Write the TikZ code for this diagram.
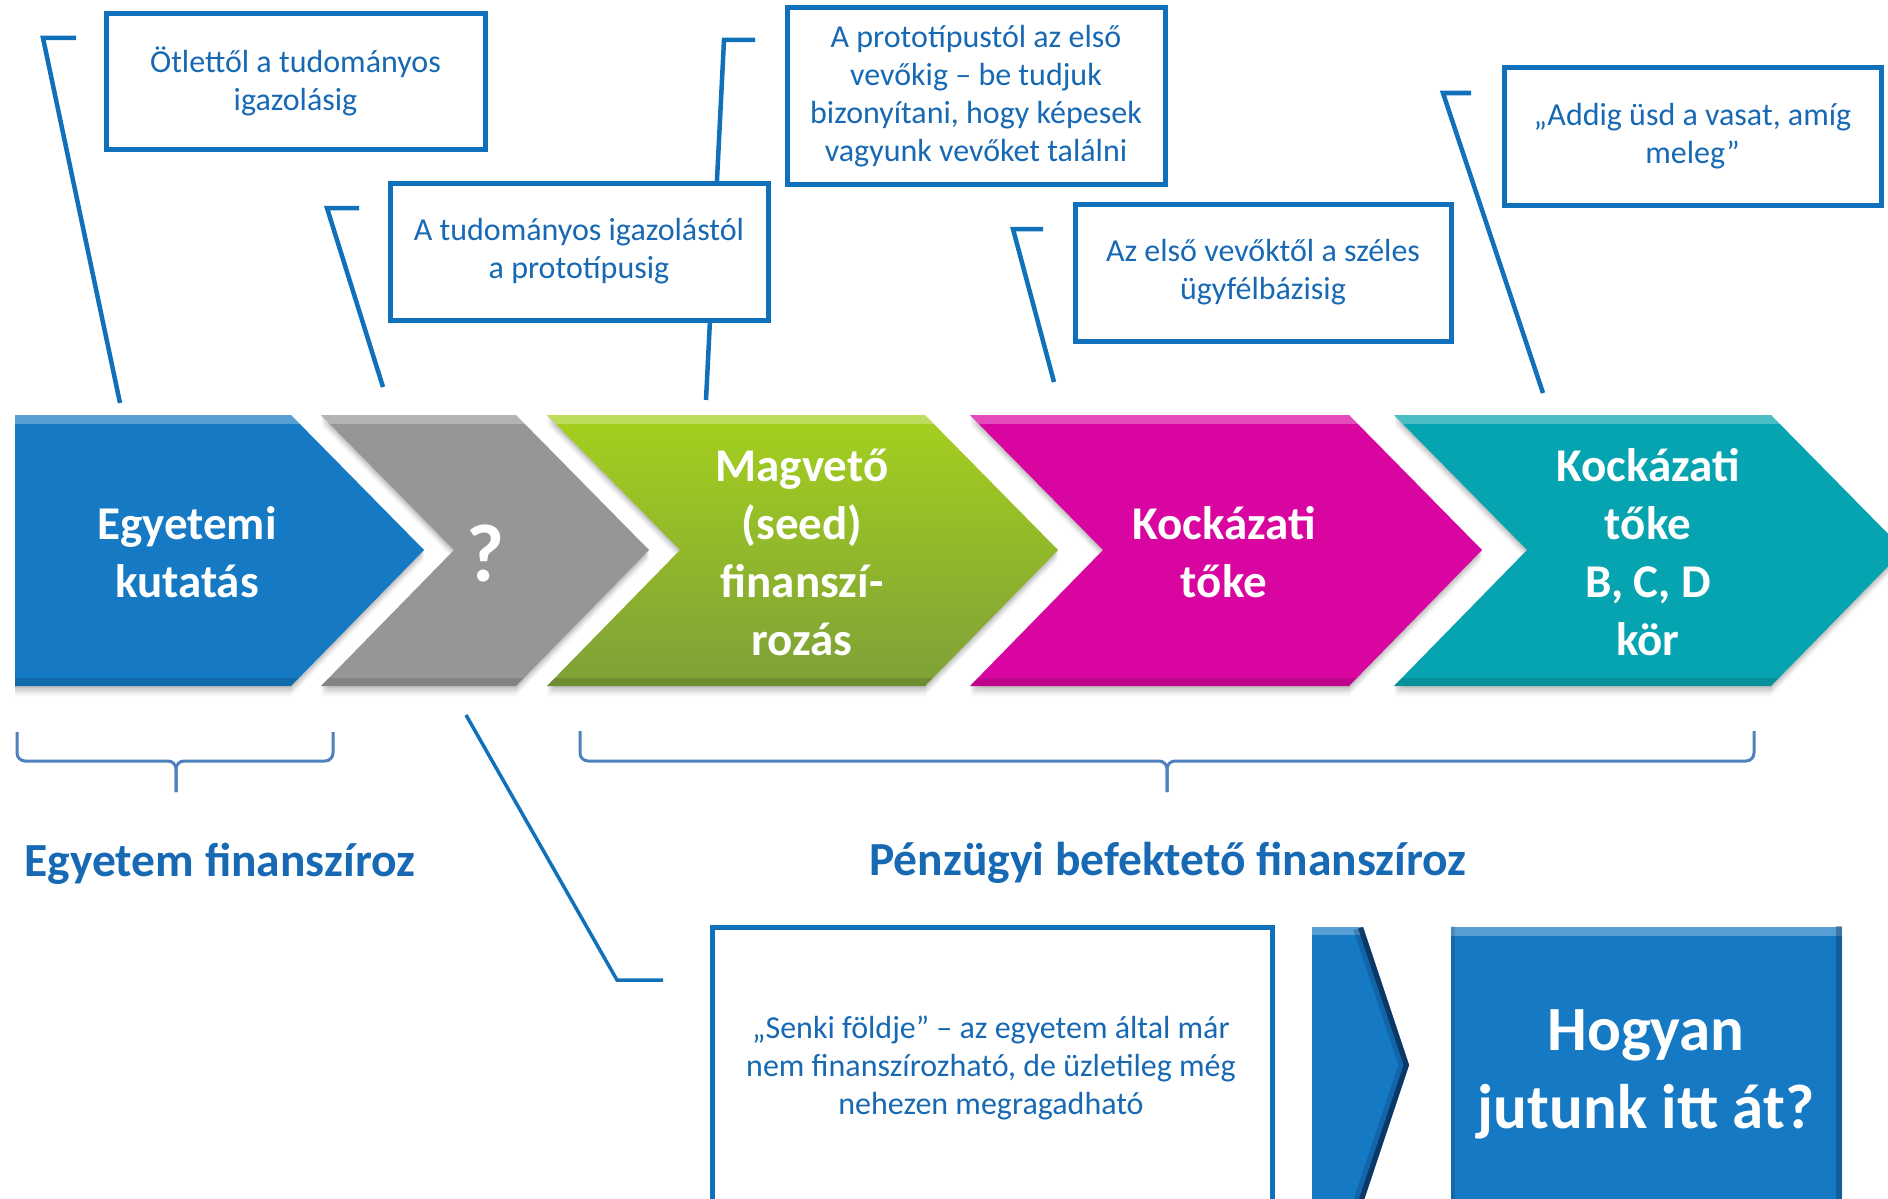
\documentclass[tikz,border=0pt]{standalone}
\usepackage{fontspec}
\setmainfont{Carlito}
\definecolor{cblue}{RGB}{17,112,186}
\definecolor{ctext}{RGB}{24,105,180}
\definecolor{bracecol}{RGB}{79,129,189}
\definecolor{chblue}{RGB}{21,121,196}
\definecolor{chnavy}{RGB}{10,45,85}
\definecolor{chgray}{RGB}{150,150,150}
\definecolor{chgreenA}{RGB}{164,208,30}
\definecolor{chgreenB}{RGB}{126,160,56}
\definecolor{chmag}{RGB}{217,5,160}
\definecolor{chteal}{RGB}{6,164,176}
\tikzset{
  callline/.style={draw=cblue, line width=4.5pt},
  callbox/.style={draw=cblue, line width=5pt, fill=white, text=ctext, align=center,
    font=\fontsize{32}{38}\selectfont, inner sep=0pt},
  chtext/.style={text=white, align=center, font=\bfseries\fontsize{47}{58}\selectfont},
  bracestyle/.style={draw=bracecol, line width=3pt, rounded corners=8pt},
  labelstyle/.style={text=ctext, font=\bfseries\fontsize{47.5}{54}\selectfont},
}
\newcommand\shadowlayers[1]{%
  \foreach \s/\o in {2/.07,4/.06,6/.05,8/.04,10/.03}{\fill[black, opacity=\o, yshift=-\s pt] #1;}}
\newcommand\chevN[3]{%
  \shadowlayers{(#1,415) -- (#2,415) -- ({#2+133},550) -- (#2,686) -- (#1,686) -- ({#1+133},550) -- cycle}
  \path[#3] (#1,415) -- (#2,415) -- ({#2+133},550) -- (#2,686) -- (#1,686) -- ({#1+133},550) -- cycle;
  \begin{scope}
    \clip (#1,415) -- (#2,415) -- ({#2+133},550) -- (#2,686) -- (#1,686) -- ({#1+133},550) -- cycle;
    \fill[white, opacity=.28] ({#1-20},410) rectangle ({#2+150},424);
    \fill[black, opacity=.12] ({#1-20},678) rectangle ({#2+150},690);
  \end{scope}}
\begin{document}
\begin{tikzpicture}[x=1pt,y=-1pt]
\useasboundingbox (0,0) rectangle (1888,1199);
\clip (0,0) rectangle (1888,1199);
\fill[white] (0,0) rectangle (1888,1199);

% callout leader lines
\coordinate (a1) at (76,38);   \coordinate (k1) at (43,38);   \coordinate (e1) at (120,403);
\coordinate (a2) at (359,208); \coordinate (k2) at (327,208); \coordinate (e2) at (383,387);
\coordinate (a3) at (755,40);  \coordinate (k3) at (724,40);  \coordinate (e3) at (706,400);
\coordinate (a4) at (1043,229);\coordinate (k4) at (1013,229);\coordinate (e4) at (1054,382);
\coordinate (a5) at (1471,93); \coordinate (k5) at (1443,93); \coordinate (e5) at (1543,393);
\coordinate (a6) at (466,715); \coordinate (k6) at (617,980); \coordinate (e6) at (663,980);
\draw[callline] (a1) -- (k1) -- (e1);
\draw[callline] (a2) -- (k2) -- (e2);
\draw[callline] (a3) -- (k3) -- (e3);
\draw[callline] (a4) -- (k4) -- (e4);
\draw[callline] (a5) -- (k5) -- (e5);
\draw[callline, line width=3.5pt] (a6) -- (k6) -- (e6);

% callout boxes
\node[callbox, minimum width=379pt, minimum height=136pt] (b1) at (295.5,81.5) {Ötlettől a tudományos\\igazolásig};
\node[callbox, minimum width=378pt, minimum height=137pt] (b2) at (579,251.5) {A tudományos igazolástól\\a prototípusig};
\node[callbox, minimum width=378pt, minimum height=176pt] (b3) at (976,96) {A prototípustól az első\\vevőkig -- be tudjuk\\bizonyítani, hogy képesek\\vagyunk vevőket találni};
\node[callbox, minimum width=376pt, minimum height=137pt] (b4) at (1263,272.5) {Az első vevőktől a széles\\ügyfélbázisig};
\node[callbox, minimum width=377pt, minimum height=137pt] (b5) at (1692.5,136.5) {„Addig üsd a vasat, amíg\\meleg”};

% chevrons
\shadowlayers{(15,415) -- (291,415) -- (424,550) -- (291,686) -- (15,686) -- cycle}
\path[fill=chblue] (15,415) -- (291,415) -- (424,550) -- (291,686) -- (15,686) -- cycle;
\begin{scope}
  \clip (15,415) -- (291,415) -- (424,550) -- (291,686) -- (15,686) -- cycle;
  \fill[white, opacity=.28] (0,410) rectangle (450,424);
  \fill[black, opacity=.12] (0,678) rectangle (450,690);
\end{scope}
\chevN{321}{516}{fill=chgray}
\chevN{547}{925}{top color=chgreenA, bottom color=chgreenB}
\chevN{970}{1349}{fill=chmag}
\chevN{1394}{1771}{fill=chteal}

\node[chtext] (t1) at (187,552) {Egyetemi\\kutatás};
\node[chtext, font=\bfseries\fontsize{82}{90}\selectfont] (t2) at (485,553) {?};
\node[chtext] (t3) at (802,552) {Magvető\\(seed)\\finanszí-\\rozás};
\node[chtext] (t4) at (1224,552) {Kockázati\\tőke};
\node[chtext] (t5) at (1648,552) {Kockázati\\tőke\\B, C, D\\kör};

% braces
\draw[bracestyle] (17,732) -- (17,761) -- (176,761) -- (176,792);
\draw[bracestyle] (333,732) -- (333,761) -- (176,761) -- (176,792);
\draw[bracestyle] (580,731) -- (580,761) -- (1167,761) -- (1167,792);
\draw[bracestyle] (1754,731) -- (1754,761) -- (1167,761) -- (1167,792);

\node[labelstyle] (l1) at (220,864) {Egyetem finanszíroz};
\node[labelstyle] (l2) at (1168,863) {Pénzügyi befektető finanszíroz};

% bottom box
\node[callbox, minimum width=560pt, minimum height=278pt] (sb) at (992,1066) {};
\node[text=ctext, align=center, font=\fontsize{32}{38}\selectfont] (st) at (991,1068)
  {„Senki földje” -- az egyetem által már\\nem finanszírozható, de üzletileg még\\nehezen megragadható};

% small arrow
\fill[chblue] (1312,927) -- (1363,927) -- (1409,1065) -- (1363,1203) -- (1312,1203) -- cycle;
\begin{scope}
  \clip (1312,927) -- (1363,927) -- (1409,1065) -- (1363,1203) -- (1312,1203) -- cycle;
  \fill[white, opacity=.28] (1300,922) rectangle (1420,935);
  \draw[chnavy, line width=10pt, opacity=.8] (1363,927) -- (1409,1065) -- (1363,1203);
  \draw[chnavy, line width=20pt, opacity=.25] (1363,927) -- (1409,1065) -- (1363,1203);
\end{scope}

% big box
\node[fill=chblue, minimum width=391pt, minimum height=290pt, inner sep=0pt] (hb) at (1646.5,1072) {};
\begin{scope}
  \clip (hb.north west) rectangle (hb.south east);
  \fill[white, opacity=.28] (1440,922) rectangle (1850,936);
  \fill[chnavy, opacity=.35] (1836,920) rectangle (1850,1220);
  \fill[black, opacity=.12] (1440,920) rectangle (1455,1220);
\end{scope}
\node[text=white, align=center, font=\bfseries\fontsize{63}{78}\selectfont] (ht) at (1646,1074) {Hogyan\\jutunk itt át?};
\end{tikzpicture}
\end{document}
